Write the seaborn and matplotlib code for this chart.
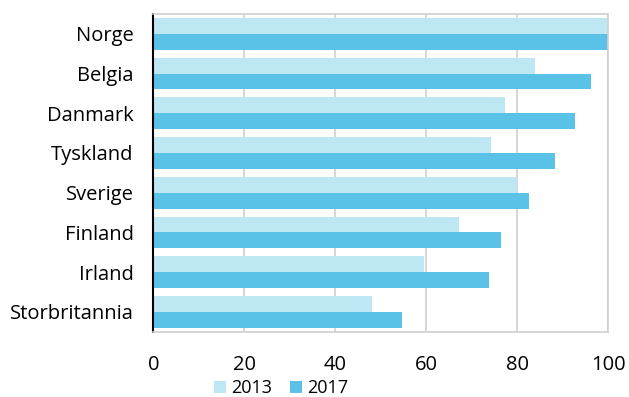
import matplotlib
matplotlib.use("Agg")
import matplotlib.pyplot as plt
import seaborn as sns
import pandas as pd
import numpy as np
from matplotlib.ticker import FixedLocator

countries = ["Norge", "Belgia", "Danmark", "Tyskland", "Sverige", "Finland", "Irland", "Storbritannia"]
years = ["2013", "2017"]
values_2013 = [100, 84, 77.4, 74.2, 80, 67.2, 59.4, 48.0]
values_2017 = [100, 96.2, 92.7, 88.2, 82.6, 76.5, 73.8, 54.6]
x_ticks = [0, 20, 40, 60, 80, 100]
colors = ["#BEE7F4", "#5BC2E7"]

df = pd.DataFrame({
    "land": countries * 2,
    "år": ["2013"] * len(countries) + ["2017"] * len(countries),
    "verdi": values_2013 + values_2017,
})

sns.set_style("white")
plt.rcParams["font.family"] = ["Open Sans", "DejaVu Sans"]
plt.rcParams["text.color"] = "black"
plt.rcParams["xtick.color"] = "black"
plt.rcParams["ytick.color"] = "black"

fig = plt.figure(figsize=(6.29, 3.97), dpi=100)
ax = fig.add_axes([0.2437, 0.1645, 0.967 - 0.2437, 0.9647 - 0.1645])

sns.barplot(data=df, y="land", x="verdi", hue="år", order=countries, hue_order=years,
            palette=colors, orient="h", width=0.8, saturation=1, linewidth=0,
            ax=ax, legend=True)

ax.set_xlim(0, 100)
ax.set_ylim(len(countries) - 0.5, -0.5)
ax.set_xticks(x_ticks)
ax.set_xticklabels([str(t) for t in x_ticks])
ax.set_xlabel("")
ax.set_ylabel("")
ax.grid(axis="x", color="#D0D0D0", linewidth=1.2, linestyle="-")
ax.set_axisbelow(True)

for s in ["top", "right", "bottom"]:
    ax.spines[s].set_color("#D0D0D0")
    ax.spines[s].set_linewidth(1.2)
ax.spines["left"].set_color("black")
ax.spines["left"].set_linewidth(1.5)

ax.tick_params(axis="x", length=0, pad=17, labelsize=14.5, labelcolor="black")
ax.tick_params(axis="y", which="major", length=0, pad=14, labelsize=14.5, labelcolor="black")
ax.yaxis.set_minor_locator(FixedLocator(np.arange(-0.5, len(countries), 1.0)))
ax.tick_params(axis="y", which="minor", direction="in", length=5, width=1.5, color="black")

handles, labels = ax.get_legend_handles_labels()
ax.get_legend().remove()
fig.legend(handles, labels, loc="lower left", bbox_to_anchor=(214 / 629, 0.0),
           bbox_transform=fig.transFigure, ncol=2, frameon=False,
           fontsize=13, handlelength=0.65, handleheight=0.65, handletextpad=0.3,
           columnspacing=1.0, borderaxespad=0, borderpad=0, labelcolor="black")

fig.savefig("out.png", dpi=100)
